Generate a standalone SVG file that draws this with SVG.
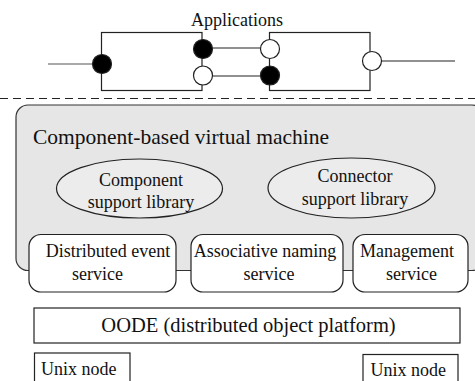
<svg xmlns="http://www.w3.org/2000/svg" width="475" height="381" viewBox="0 0 475 381" font-family="'Liberation Serif', serif">
<style>
svg text, g text, text{font-family:'Liberation Serif','Times New Roman',serif !important;fill:#111;}
.c{text-anchor:middle;}
.s18{font-size:18px;}
.box{fill:#fff;stroke:#222;stroke-width:1.2;}
.ln{stroke:#222;stroke-width:1.2;fill:none;}
.ell{fill:#ececec;stroke:#222;stroke-width:1.2;}
</style>
<rect width="475" height="381" fill="#fff"/>
<g id="applications">
<text class="c s18" x="237" y="26">Applications</text>
<rect class="ln" x="101.5" y="32.5" width="100.5" height="58"/>
<rect class="ln" x="269.5" y="32.5" width="100.5" height="58"/>
</g>
<g id="connectors" stroke="#222" stroke-width="1.2" fill="none">
<line x1="48" y1="64" x2="102" y2="64" stroke="#555"/>
<line x1="203" y1="48" x2="270" y2="48"/>
<line x1="203" y1="76" x2="270" y2="76"/>
<line x1="372" y1="61" x2="455" y2="61"/>
<line x1="0" y1="98.5" x2="475" y2="98.5" stroke-dasharray="8 5"/>
</g>
<g id="ports" stroke="#222" stroke-width="1.2">
<circle cx="102" cy="64" r="9.5" fill="#000"/>
<circle cx="203" cy="49" r="9.5" fill="#000"/>
<circle cx="203" cy="75.5" r="9.5" fill="#fff"/>
<circle cx="270" cy="49" r="9.5" fill="#fff"/>
<circle cx="270" cy="75.5" r="9.5" fill="#000"/>
<circle cx="372" cy="61" r="9.5" fill="#fff"/>
</g>
<g id="vm">
<rect x="16" y="105" width="468" height="165.5" rx="12" fill="#e6e6e6" stroke="#333" stroke-width="1.2"/>
<text x="33" y="143.5" font-size="21.5">Component-based virtual machine</text>
</g>
<g id="component-lib">
<ellipse class="ell" cx="139.5" cy="188.5" rx="83" ry="29.5"/>
<text class="c s18" x="141" y="185.5">Component</text>
<text class="c s18" x="141" y="208">support library</text>
</g>
<g id="connector-lib">
<ellipse class="ell" cx="351.5" cy="188" rx="83.5" ry="30"/>
<text class="c s18" x="355" y="181.5">Connector</text>
<text class="c s18" x="355" y="205">support library</text>
</g>
<g id="event-service">
<rect class="box" x="29" y="234.5" width="147" height="57.5" rx="12"/>
<text class="c s18" x="108" y="256.5">Distributed event</text>
<text class="c s18" x="97.5" y="280">service</text>
</g>
<g id="naming-service">
<rect class="box" x="191" y="234.5" width="152" height="57.5" rx="12"/>
<text class="c s18" x="265" y="256.5">Associative naming</text>
<text class="c s18" x="269" y="280">service</text>
</g>
<g id="management-service">
<rect class="box" x="353" y="234.5" width="115" height="57.5" rx="12"/>
<text class="c s18" x="407" y="256.5">Management</text>
<text class="c s18" x="411.5" y="280">service</text>
</g>
<g id="oode">
<rect class="box" x="34" y="308" width="426" height="35"/>
<text class="c" x="248.5" y="331.5" font-size="20.5">OODE (distributed object platform)</text>
</g>
<g id="unix-left">
<rect class="box" x="34.5" y="353" width="95.5" height="40"/>
<text class="s18" x="41" y="375">Unix node</text>
</g>
<g id="unix-right">
<rect class="box" x="363" y="354.5" width="95" height="40"/>
<text class="s18" x="370.5" y="376">Unix node</text>
</g>
</svg>
